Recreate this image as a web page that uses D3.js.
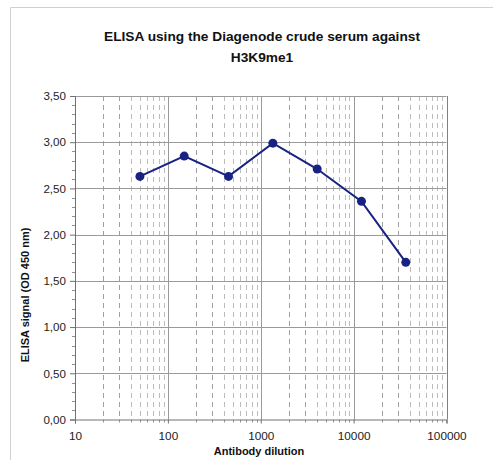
<!DOCTYPE html>
<html><head><meta charset="utf-8">
<script src="https://cdn.jsdelivr.net/npm/d3@7"></script>
<style>body{margin:0;background:#fff;} svg{display:block;} text{font-family:"Liberation Sans",Arial,sans-serif;}</style>
</head><body>
<svg id="c" width="493" height="460"></svg>
<script>
const dilutions = [50, 150, 450, 1350, 4050, 12150, 36450];
const signals = [2.63, 2.85, 2.63, 2.99, 2.71, 2.36, 1.70];
const xTickValues = [10, 100, 1000, 10000, 100000];
const yTickValues = [0, 0.5, 1, 1.5, 2, 2.5, 3, 3.5];
const titleLines = ["ELISA using the Diagenode crude serum against", "H3K9me1"];
const xLabel = "Antibody dilution";
const yLabel = "ELISA signal (OD 450 nm)";

const svg = d3.select("#c");
const L = 75, R = 446.5, T = 96, B = 419.5;
const x = d3.scaleLog().domain([10, 100000]).range([L, R]);
const y = d3.scaleLinear().domain([0, 3.5]).range([B, T]);

// outer frame
svg.append("path").attr("d", "M10.5,460 V7.5 H493").attr("fill","none").attr("stroke","#d0d0d0").attr("stroke-width",1);

// minor vertical dashed grid
const minors = [];
for (let d = 10; d < 100000; d *= 10) for (let k = 2; k <= 9; k++) minors.push(d * k);
svg.append("g").selectAll("line").data(minors).join("line")
  .attr("x1", d => Math.round(x(d)) + 0.5).attr("x2", d => Math.round(x(d)) + 0.5)
  .attr("y1", T).attr("y2", B)
  .attr("stroke", (d,i) => (i % 8 < 2) ? "#a0a0a0" : "#bcbcbc").attr("stroke-width", 1).attr("stroke-dasharray", "5,4");

// major vertical grid
svg.append("g").selectAll("line").data(xTickValues.slice(1)).join("line")
  .attr("x1", d => Math.round(x(d)) + 0.5).attr("x2", d => Math.round(x(d)) + 0.5)
  .attr("y1", T).attr("y2", B).attr("stroke", d => d === 100000 ? "#808080" : "#9a9a9a").attr("stroke-width", 1);

// horizontal grid
svg.append("g").selectAll("line").data(yTickValues.slice(1)).join("line")
  .attr("x1", L).attr("x2", R)
  .attr("y1", d => Math.round(y(d)) + 0.5).attr("y2", d => Math.round(y(d)) + 0.5)
  .attr("stroke", "#9a9a9a").attr("stroke-width", 1);

// y axis
const yAxis = d3.axisLeft(y).tickValues(yTickValues).tickSize(5).tickPadding(4)
  .tickFormat(d => d3.format(".2f")(d).replace(".", ","));
const gy = svg.append("g").attr("transform", `translate(${L},0)`).call(yAxis);
gy.select(".domain").attr("stroke", "#707070");
gy.selectAll(".tick line").attr("stroke", "#707070");
gy.selectAll("text").attr("font-size", 11.6).attr("fill", "#222");
const yMinor = d3.range(0, 35).map(i => i / 10).filter(v => Math.round(v * 10) % 5 !== 0);
svg.append("g").selectAll("line").data(yMinor).join("line")
  .attr("x1", L - 3).attr("x2", L).attr("y1", d => Math.round(y(d)) + 0.5).attr("y2", d => Math.round(y(d)) + 0.5)
  .attr("stroke", "#909090");

// x axis
const xAxis = d3.axisBottom(x).tickValues(xTickValues).tickSize(4).tickPadding(8).tickFormat(d3.format("d"));
const gx = svg.append("g").attr("transform", `translate(0,${B})`).call(xAxis);
gx.select(".domain").attr("stroke", "#707070");
gx.selectAll(".tick line").attr("stroke", "#707070");
gx.selectAll("text").attr("font-size", 11.8).attr("fill", "#222");
svg.append("g").selectAll("line").data(minors).join("line")
  .attr("x1", d => Math.round(x(d)) + 0.5).attr("x2", d => Math.round(x(d)) + 0.5)
  .attr("y1", B).attr("y2", B + 3).attr("stroke", "#909090");

// series
const navy = "#172282";
svg.append("path").datum(dilutions.map((d, i) => [d, signals[i]]))
  .attr("d", d3.line().x(d => x(d[0])).y(d => y(d[1])))
  .attr("fill", "none").attr("stroke", navy).attr("stroke-width", 2);
svg.append("g").selectAll("circle").data(dilutions.map((d, i) => [d, signals[i]])).join("circle")
  .attr("cx", d => x(d[0])).attr("cy", d => y(d[1])).attr("r", 4.5).attr("fill", navy);

// titles
svg.append("g").selectAll("text").data(titleLines).join("text")
  .attr("x", 262).attr("y", (d, i) => 41 + i * 21).attr("text-anchor", "middle")
  .attr("font-size", 13.7).attr("font-weight", "bold").attr("fill", "#111").text(d => d);
svg.append("text").attr("x", 259).attr("y", 455).attr("text-anchor", "middle")
  .attr("font-size", 11).attr("font-weight", "bold").attr("fill", "#111").text(xLabel);
svg.append("text").attr("transform", "translate(29,295) rotate(-90)").attr("text-anchor", "middle")
  .attr("font-size", 11).attr("font-weight", "bold").attr("fill", "#111").text(yLabel);
</script>
</body></html>
